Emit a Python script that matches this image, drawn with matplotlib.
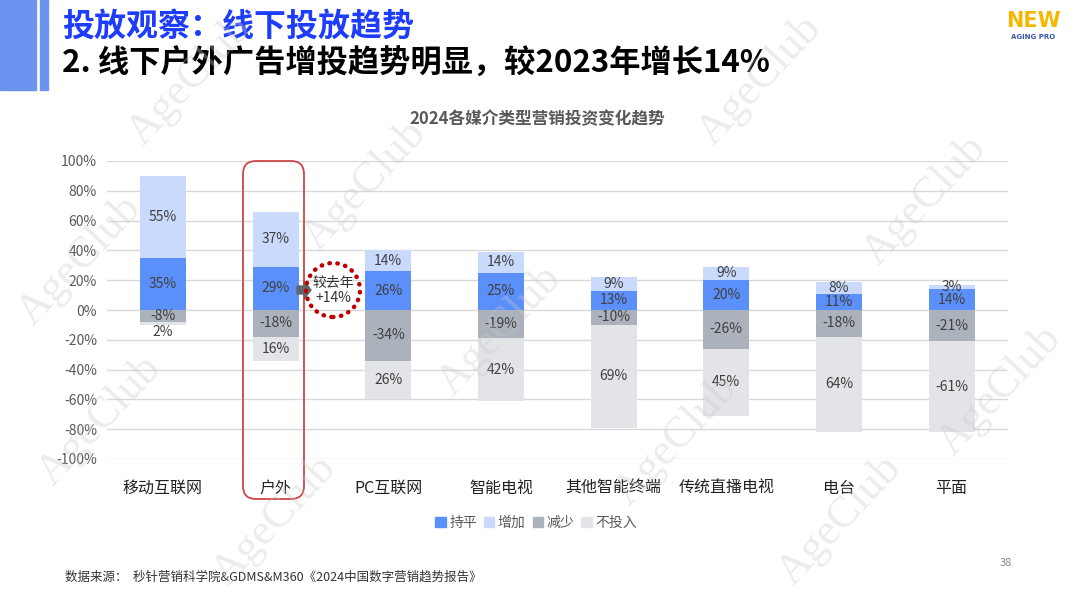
import numpy as np
import matplotlib
matplotlib.use("Agg")
import matplotlib.pyplot as plt
import matplotlib.transforms as mtransforms
from matplotlib.patches import Rectangle, FancyBboxPatch, Circle, Polygon, Patch

plt.rcParams['font.family'] = ['Noto Sans CJK SC', 'DejaVu Sans']

# Data
categories = ["移动互联网", "户外", "PC互联网", "智能电视", "其他智能终端", "传统直播电视", "电台", "平面"]
flat = [35, 29, 26, 25, 13, 20, 11, 14]          # 持平
increase = [55, 37, 14, 14, 9, 9, 8, 3]          # 增加
decrease = [8, 18, 34, 19, 10, 26, 18, 21]       # 减少 (drawn below zero)
no_spend = [2, 16, 26, 42, 69, 45, 64, 61]       # 不投入 (drawn below 减少)
no_spend_labels = ["2%", "16%", "26%", "42%", "69%", "45%", "64%", "-61%"]
yticks = list(range(-100, 101, 20))

c_flat = "#5b8ff9"
c_inc = "#c9dafc"
c_dec = "#abb2bb"
c_none = "#e2e4e8"
lab_col = "#404040"

W, H = 1080, 600
fig = plt.figure(figsize=(W / 100, H / 100), dpi=100)
pix = mtransforms.IdentityTransform()


def fx(x):
    return x / W


def fy(y):
    return 1 - y / H


# Chart area
ax = fig.add_axes([fx(106.6), fy(459), (1008 - 106.6) / W, 298 / H])
x = np.arange(len(categories))
bw = 0.41
flat_a = np.array(flat)
inc_a = np.array(increase)
dec_a = -np.array(decrease)
none_a = -np.array(no_spend)

ax.bar(x, flat_a, bw, color=c_flat, zorder=2, label="持平")
ax.bar(x, inc_a, bw, bottom=flat_a, color=c_inc, zorder=2, label="增加")
ax.bar(x, dec_a, bw, color=c_dec, zorder=2, label="减少")
ax.bar(x, none_a, bw, bottom=dec_a, color=c_none, zorder=2, label="不投入")

for i in range(len(categories)):
    ax.text(x[i], flat[i] / 2, f"{flat[i]}%", ha="center", va="center", fontsize=10, color=lab_col, zorder=3)
    ax.text(x[i], flat[i] + increase[i] / 2, f"{increase[i]}%", ha="center", va="center", fontsize=10, color=lab_col, zorder=3)
    ax.text(x[i], -decrease[i] / 2, f"-{decrease[i]}%", ha="center", va="center", fontsize=10, color=lab_col, zorder=3)
    if no_spend[i] < 5:
        ypos = -decrease[i] - no_spend[i] - 5
    else:
        ypos = -decrease[i] - no_spend[i] / 2
    ax.text(x[i], ypos, no_spend_labels[i], ha="center", va="center", fontsize=10, color=lab_col, zorder=3)

ax.set_xlim(-0.5, len(categories) - 0.5)
ax.set_ylim(-100, 100)
ax.set_yticks(yticks)
ax.set_yticklabels([f"{v}%" for v in yticks], fontsize=10, color="#595959")
ax.set_xticks(x)
ax.set_xticklabels(categories, fontsize=11.5, color="#222222")
ax.tick_params(axis="y", length=0, pad=7)
ax.tick_params(axis="x", length=0, pad=15)
ax.grid(axis="y", color="#d9d9d9", linewidth=1, zorder=0)
for s in ax.spines.values():
    s.set_visible(False)

handles = [Patch(color=c) for c in (c_flat, c_inc, c_dec, c_none)]
fig.legend(handles, ["持平", "增加", "减少", "不投入"], loc="center", bbox_to_anchor=(fx(536), fy(523)),
           ncol=4, frameon=False, fontsize=10, handlelength=0.75, handleheight=0.75,
           handletextpad=0.25, columnspacing=0.5, labelcolor="#595959")

# Header decorations
fig.add_artist(Rectangle((0, H - 90), 36, 90, transform=pix, color="#6b93f0"))
fig.add_artist(Rectangle((40, H - 90), 8, 90, transform=pix, color="#6b93f0"))
fig.text(fx(62), fy(27), "投放观察：线下投放趋势", fontsize=23, fontweight="bold", color="#1d3dfa", va="center")
fig.text(fx(62), fy(64), "2. 线下户外广告增投趋势明显，较2023年增长14%", fontsize=22.5, fontweight="bold",
         color="black", va="center")
fig.text(fx(1033), fy(21), "NEW", fontsize=15, fontweight="bold", color="#f5b800", ha="center", va="center",
         family="DejaVu Sans")
fig.text(fx(1033), fy(37), "AGING PRO", fontsize=5, fontweight="bold", color="#3a5aa8", ha="center", va="center",
         family="DejaVu Sans")
fig.text(fx(537), fy(119), "2024各媒介类型营销投资变化趋势", fontsize=12, fontweight="bold", color="#595959",
         ha="center", va="center")

# Highlight for 户外
fig.add_artist(FancyBboxPatch((243, H - 499), 61, 338, boxstyle="round,pad=0,rounding_size=13",
                              transform=pix, fill=False, edgecolor="#d04545", linewidth=1.3, zorder=5))
fig.add_artist(Polygon([(297, H - 286), (304, H - 286), (304, H - 281), (311, H - 290),
                        (304, H - 299), (304, H - 294), (297, H - 294)],
                       closed=True, transform=pix, color="#5f666d", zorder=5))
fig.add_artist(Circle((333, H - 290), 27, transform=pix, fill=False, edgecolor="#c00000",
                      linewidth=3.2, linestyle=(0, (0.1, 1.7)), capstyle="round", zorder=5))
fig.text(fx(333), fy(290), "较去年\n+14%", fontsize=10, color="#333333", ha="center", va="center",
         linespacing=1.1, zorder=6)

# Footer
fig.text(fx(65), fy(577), "数据来源：  秒针营销科学院&GDMS&M360《2024中国数字营销趋势报告》", fontsize=9,
         color="#333333", va="center")
fig.text(fx(1006), fy(563), "38", fontsize=8, color="#888888", ha="center", va="center")

# Watermarks
marks = [(190, 80), (760, 80), (365, 185), (925, 200), (500, 330), (1000, 390),
         (80, 260), (100, 420), (275, 520), (676, 440), (840, 520)]
for mx, my in marks:
    fig.text(fx(mx), fy(my), "AgeClub", fontsize=32, family="Liberation Serif", rotation=47,
             color="#c8c8c8", alpha=0.35, ha="center", va="center", zorder=10)

fig.savefig("out.png", dpi=100, facecolor="white")
